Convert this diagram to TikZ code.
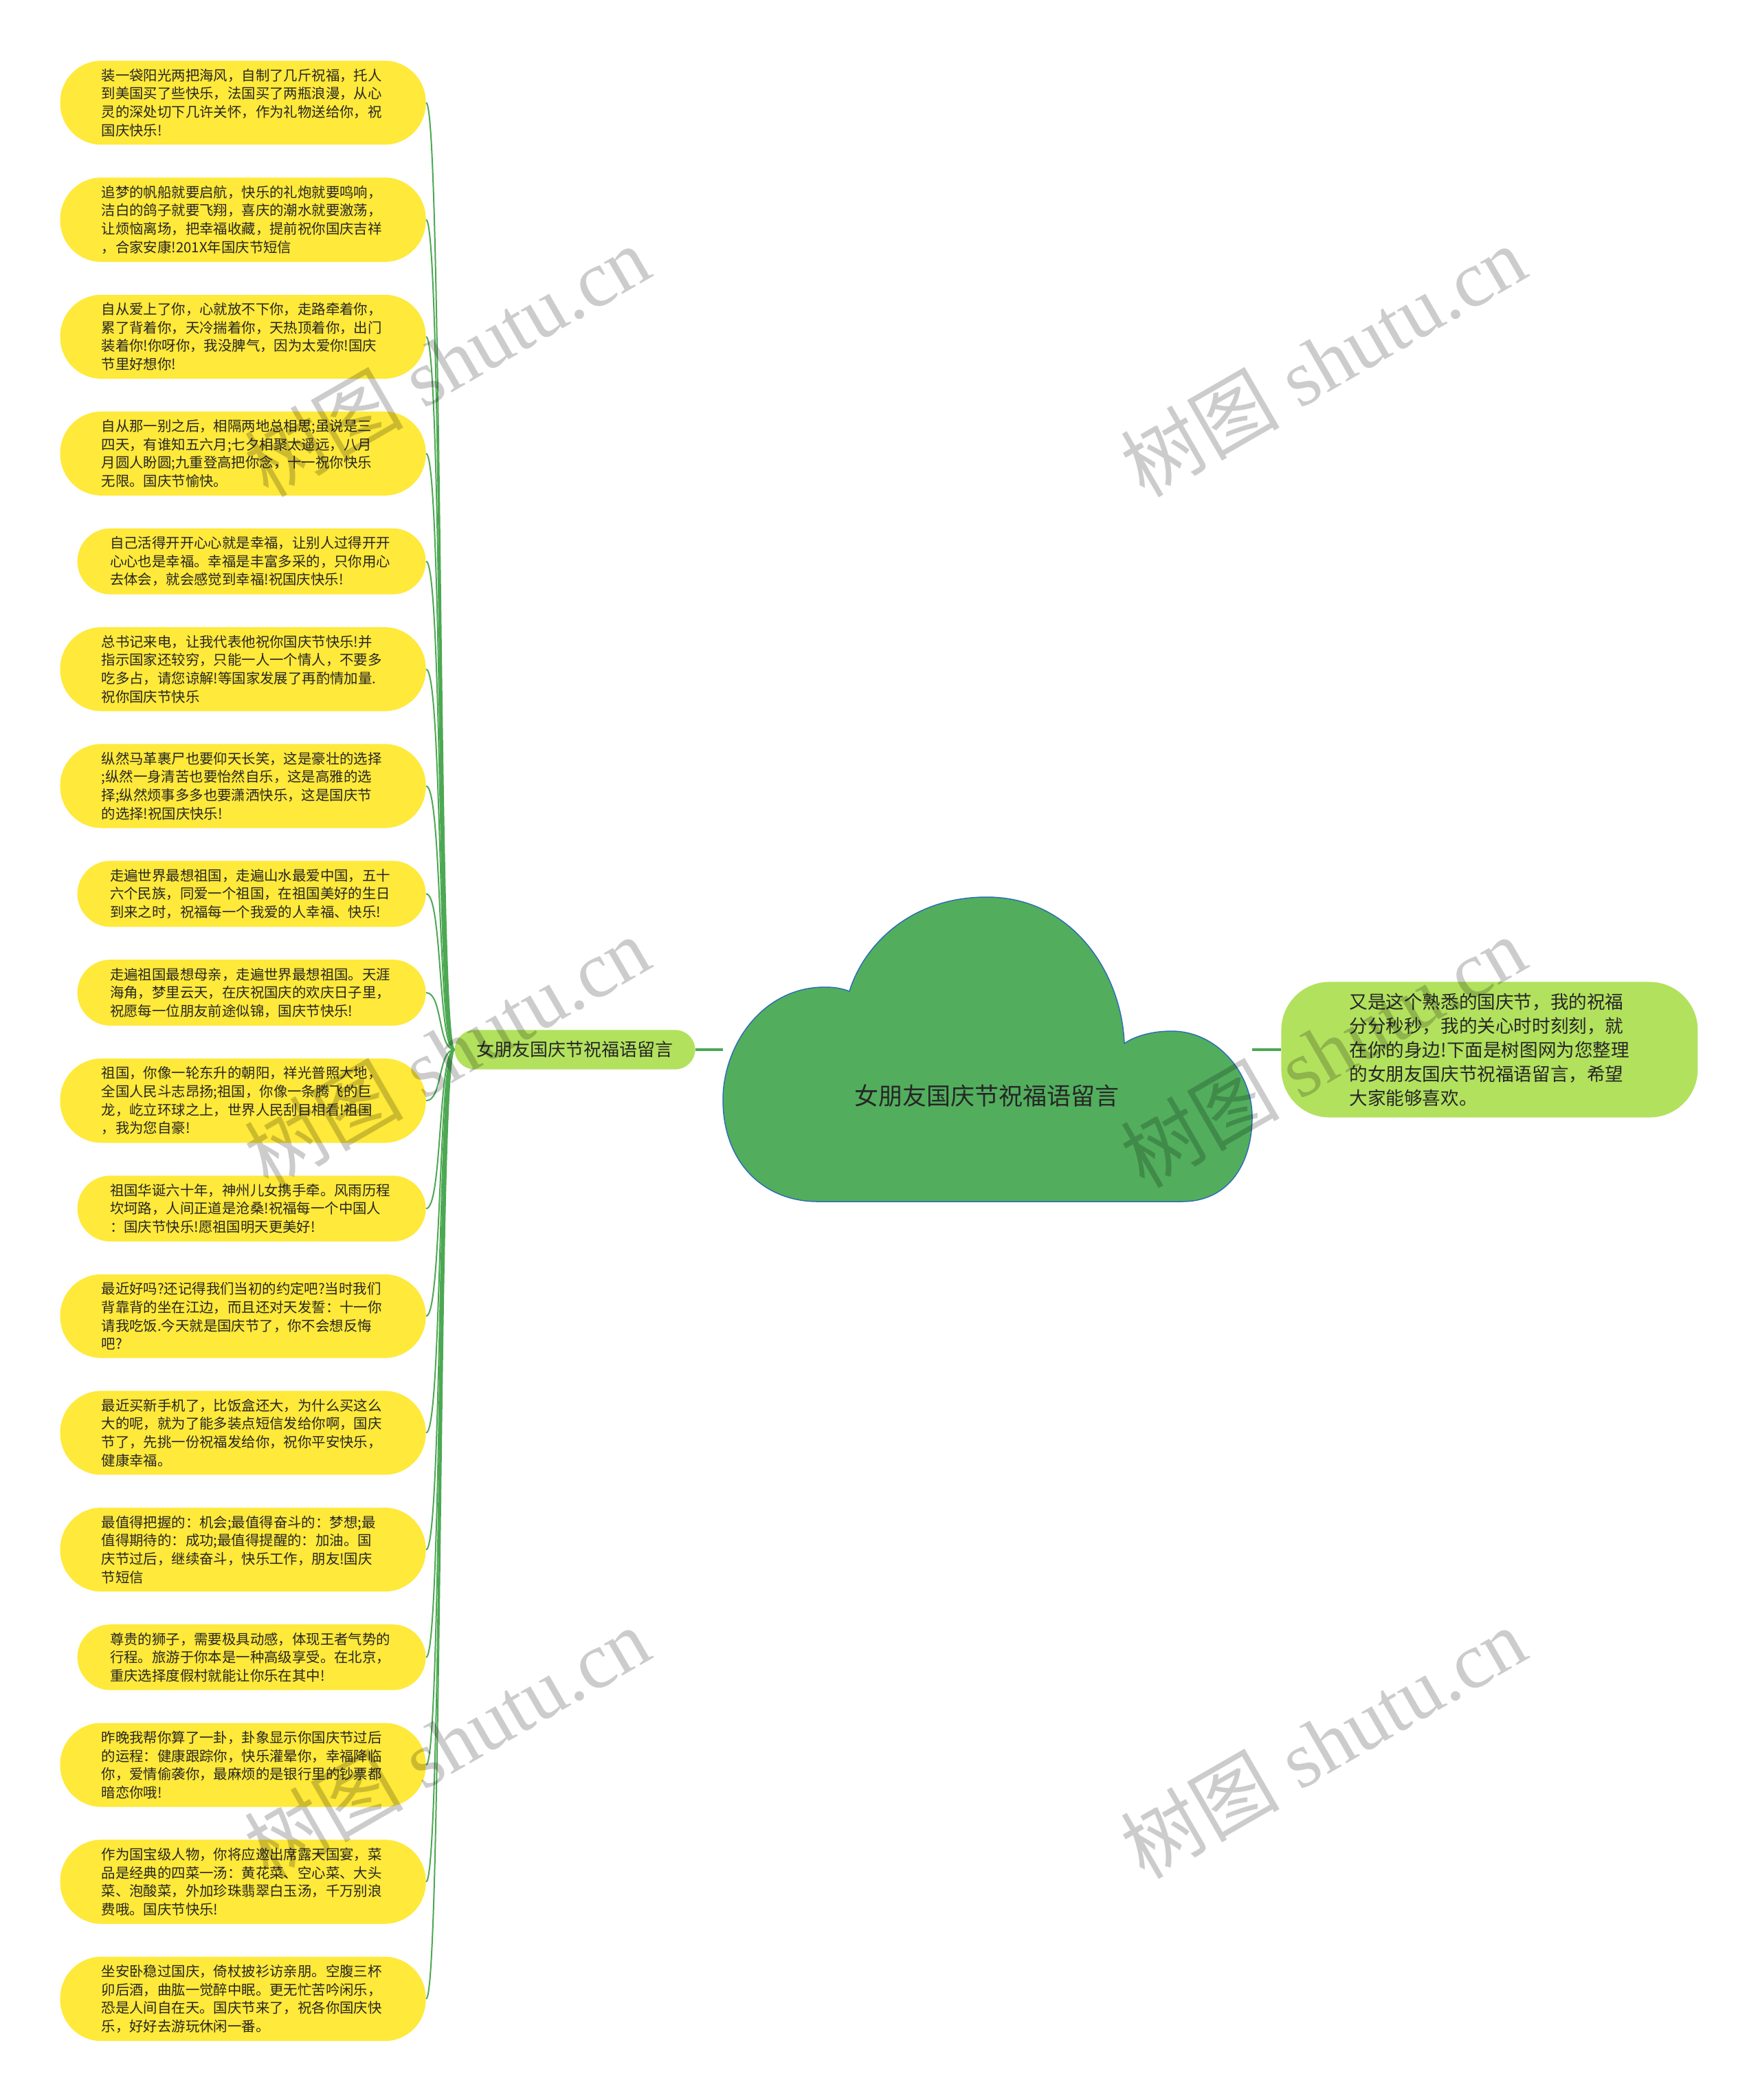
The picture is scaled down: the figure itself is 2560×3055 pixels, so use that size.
\documentclass[tikz,border=0pt]{standalone}
\usepackage{fontspec}
\newfontfamily\cjk{Noto Sans CJK SC}
\newfontfamily\wmserif{Liberation Serif}
\usetikzlibrary{positioning}
\definecolor{leafyellow}{RGB}{255,233,58}
\definecolor{branchgreen}{RGB}{178,225,94}
\definecolor{cloudgreen}{RGB}{82,174,93}
\definecolor{cloudblue}{RGB}{46,110,180}
\definecolor{linkgreen}{RGB}{76,168,82}

\begin{document}
\begin{tikzpicture}[
    x=0.5pt, y=-0.5pt,
    node distance=23.5pt,
    leaf/.style={fill=leafyellow, rounded corners=30pt, align=left, text width=206pt,
        inner xsep=30pt, inner ysep=5.85pt, text=black!85,
        font=\cjk\fontsize{10.2}{13.3}\selectfont, anchor=north east},
    leafs/.style={leaf, rounded corners=24pt, inner xsep=23.75pt},
    stackbelow/.style={below=of #1.south east, anchor=north east},
    hub/.style={fill=branchgreen, rounded corners=14.5pt, inner xsep=16pt, inner ysep=8.25pt,
        text=black!85, font=\cjk\fontsize{13}{15.6}\selectfont},
    intro/.style={fill=branchgreen, rounded corners=35pt, align=left, text width=204pt,
        inner xsep=49.5pt, inner ysep=8.1pt, text=black!85,
        font=\cjk\fontsize{13.3}{17.5}\selectfont},
    rootlabel/.style={text=black!85, font=\cjk\fontsize{17.5}{21}\selectfont},
    cloudshape/.style={fill=cloudgreen, draw=cloudblue, line width=0.75pt},
    trunk/.style={draw=linkgreen, line width=1.7pt},
    link/.style={draw=linkgreen, line width=1pt},
    watermark/.style={rotate=30, text=black, text opacity=0.2,
        font=\wmserif\fontsize{58}{66}\selectfont}
]

\path[fill=white, use as bounding box] (0,0) rectangle (2560,3055);

\coordinate (cloudW) at (1052,1527);
\coordinate (cloudE) at (1822,1527);

\node[hub, left=20pt of cloudW] (hub) {女朋友国庆节祝福语留言};
\node[intro, right=21pt of cloudE] (intro) {又是这个熟悉的国庆节，我的祝福\\分分秒秒，我的关心时时刻刻，就\\在你的身边!下面是树图网为您整理\\的女朋友国庆节祝福语留言，希望\\大家能够喜欢。};

\draw[trunk] (hub) -- (cloudW);
\draw[trunk] (cloudE) -- (intro);

\draw[cloudshape] (1190,1748) -- (1720,1748)
    .. controls (1790,1748) and (1822,1690) .. (1822,1625)
    .. controls (1822,1560) and (1770,1500) .. (1705,1500)
    .. controls (1675,1500) and (1650,1508) .. (1636,1518)
    .. controls (1632,1415) and (1560,1305) .. (1436,1305)
    .. controls (1320,1305) and (1255,1380) .. (1236,1442)
    .. controls (1225,1438) and (1215,1436) .. (1200,1436)
    .. controls (1110,1436) and (1052,1520) .. (1052,1600)
    .. controls (1052,1690) and (1110,1748) .. (1190,1748) -- cycle;
\node[rootlabel] (root) at (1436,1594) {女朋友国庆节祝福语留言};

\node[leaf] (l1) at (620,88) {装一袋阳光两把海风，自制了几斤祝福，托人\\到美国买了些快乐，法国买了两瓶浪漫，从心\\灵的深处切下几许关怀，作为礼物送给你，祝\\国庆快乐!};
\node[leaf, stackbelow=l1] (l2) {追梦的帆船就要启航，快乐的礼炮就要鸣响，\\洁白的鸽子就要飞翔，喜庆的潮水就要激荡，\\让烦恼离场，把幸福收藏，提前祝你国庆吉祥\\，合家安康!201X年国庆节短信};
\node[leaf, stackbelow=l2] (l3) {自从爱上了你，心就放不下你，走路牵着你，\\累了背着你，天冷揣着你，天热顶着你，出门\\装着你!你呀你，我没脾气，因为太爱你!国庆\\节里好想你!};
\node[leaf, stackbelow=l3] (l4) {自从那一别之后，相隔两地总相思;虽说是三\\四天，有谁知五六月;七夕相聚太遥远，八月\\月圆人盼圆;九重登高把你念，十一祝你快乐\\无限。国庆节愉快。};
\node[leafs, stackbelow=l4] (l5) {自己活得开开心心就是幸福，让别人过得开开\\心心也是幸福。幸福是丰富多采的，只你用心\\去体会，就会感觉到幸福!祝国庆快乐!};
\node[leaf, stackbelow=l5] (l6) {总书记来电，让我代表他祝你国庆节快乐!并\\指示国家还较穷，只能一人一个情人，不要多\\吃多占，请您谅解!等国家发展了再酌情加量.\\祝你国庆节快乐};
\node[leaf, stackbelow=l6] (l7) {纵然马革裹尸也要仰天长笑，这是豪壮的选择\\;纵然一身清苦也要怡然自乐，这是高雅的选\\择;纵然烦事多多也要潇洒快乐，这是国庆节\\的选择!祝国庆快乐!};
\node[leafs, stackbelow=l7] (l8) {走遍世界最想祖国，走遍山水最爱中国，五十\\六个民族，同爱一个祖国，在祖国美好的生日\\到来之时，祝福每一个我爱的人幸福、快乐!};
\node[leafs, stackbelow=l8] (l9) {走遍祖国最想母亲，走遍世界最想祖国。天涯\\海角，梦里云天，在庆祝国庆的欢庆日子里，\\祝愿每一位朋友前途似锦，国庆节快乐!};
\node[leaf, stackbelow=l9] (l10) {祖国，你像一轮东升的朝阳，祥光普照大地，\\全国人民斗志昂扬;祖国，你像一条腾飞的巨\\龙，屹立环球之上，世界人民刮目相看!祖国\\，我为您自豪!};
\node[leafs, stackbelow=l10] (l11) {祖国华诞六十年，神州儿女携手牵。风雨历程\\坎坷路，人间正道是沧桑!祝福每一个中国人\\：国庆节快乐!愿祖国明天更美好!};
\node[leaf, stackbelow=l11] (l12) {最近好吗?还记得我们当初的约定吧?当时我们\\背靠背的坐在江边，而且还对天发誓：十一你\\请我吃饭.今天就是国庆节了，你不会想反悔\\吧?};
\node[leaf, stackbelow=l12] (l13) {最近买新手机了，比饭盒还大，为什么买这么\\大的呢，就为了能多装点短信发给你啊，国庆\\节了，先挑一份祝福发给你，祝你平安快乐，\\健康幸福。};
\node[leaf, stackbelow=l13] (l14) {最值得把握的：机会;最值得奋斗的：梦想;最\\值得期待的：成功;最值得提醒的：加油。国\\庆节过后，继续奋斗，快乐工作，朋友!国庆\\节短信};
\node[leafs, stackbelow=l14] (l15) {尊贵的狮子，需要极具动感，体现王者气势的\\行程。旅游于你本是一种高级享受。在北京，\\重庆选择度假村就能让你乐在其中!};
\node[leaf, stackbelow=l15] (l16) {昨晚我帮你算了一卦，卦象显示你国庆节过后\\的运程：健康跟踪你，快乐灌晕你，幸福降临\\你，爱情偷袭你，最麻烦的是银行里的钞票都\\暗恋你哦!};
\node[leaf, stackbelow=l16] (l17) {作为国宝级人物，你将应邀出席露天国宴，菜\\品是经典的四菜一汤：黄花菜、空心菜、大头\\菜、泡酸菜，外加珍珠翡翠白玉汤，千万别浪\\费哦。国庆节快乐!};
\node[leaf, stackbelow=l17] (l18) {坐安卧稳过国庆，倚杖披衫访亲朋。空腹三杯\\卯后酒，曲肱一觉醉中眠。更无忙苦吟闲乐，\\恐是人间自在天。国庆节来了，祝各你国庆快\\乐，好好去游玩休闲一番。};

\foreach \i in {1,...,18}
  \draw[link] (hub.west) .. controls +(-12pt,0) and +(12pt,0) .. (l\i.east);

\foreach \wx in {650,1925}
  \foreach \wy in {525,1530,2535}
    \node[watermark] (wm\wx\wy) at (\wx,\wy) {{\cjk 树图} shutu.cn};

\end{tikzpicture}
\end{document}
